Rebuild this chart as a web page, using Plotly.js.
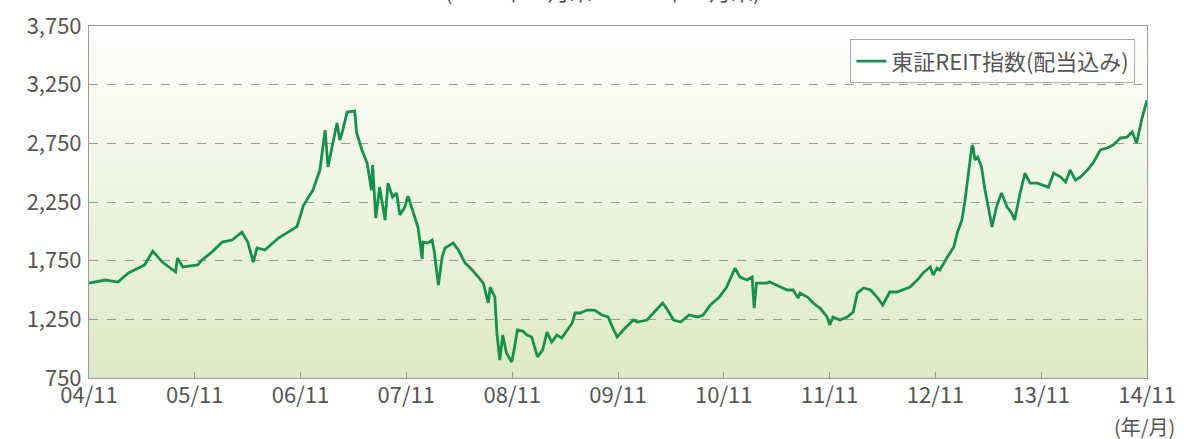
<!DOCTYPE html>
<html>
<head>
<meta charset="utf-8">
<script src="https://cdn.plot.ly/plotly-3.0.1.min.js"></script>
<style>html,body{margin:0;padding:0;background:#fff;}#chart{width:1189px;height:439px;}</style>
</head>
<body>
<div id="chart"></div>
<script>
var dates = [
"2004-11-30","2005-01-25","2005-03-10","2005-04-15","2005-06-10","2005-07-08","2005-08-10","2005-09-25","2005-10-01","2005-10-20",
"2005-12-10","2005-12-25","2006-01-28","2006-03-05","2006-04-08","2006-05-12","2006-06-01","2006-06-20","2006-07-03","2006-07-30",
"2006-09-15","2006-10-18","2006-11-10","2006-11-18","2006-12-10","2007-01-12","2007-02-05","2007-02-23","2007-03-05","2007-04-05",
"2007-04-15","2007-04-25","2007-05-10","2007-06-05","2007-06-12","2007-06-30","2007-07-18","2007-08-02","2007-08-06","2007-08-17",
"2007-08-30","2007-09-18","2007-09-28","2007-10-14","2007-10-28","2007-11-08","2007-11-25","2007-12-06","2007-12-22","2008-01-10",
"2008-01-24","2008-01-27","2008-02-12","2008-02-27","2008-03-05","2008-03-20","2008-04-02","2008-04-12","2008-05-10","2008-05-28",
"2008-06-20","2008-07-15","2008-08-05","2008-08-22","2008-09-08","2008-09-15","2008-10-01","2008-10-08","2008-10-18","2008-10-28",
"2008-11-10","2008-11-28","2008-12-08","2008-12-18","2009-01-05","2009-01-20","2009-02-05","2009-02-25","2009-03-15","2009-03-30",
"2009-04-15","2009-05-03","2009-05-20","2009-06-08","2009-06-25","2009-07-05","2009-07-22","2009-08-15","2009-09-10","2009-10-05",
"2009-10-27","2009-11-12","2009-11-27","2009-12-18","2010-01-22","2010-02-05","2010-03-10","2010-04-01","2010-05-03","2010-05-20",
"2010-06-10","2010-07-05","2010-08-02","2010-09-02","2010-09-20","2010-10-15","2010-11-15","2010-12-10","2011-01-01","2011-01-08",
"2011-01-25","2011-02-18","2011-03-08","2011-03-15","2011-03-23","2011-04-28","2011-05-08","2011-06-12","2011-07-07","2011-07-27",
"2011-08-14","2011-08-20","2011-09-15","2011-10-05","2011-10-28","2011-11-22","2011-12-01","2011-12-12","2012-01-05","2012-01-30",
"2012-02-20","2012-03-05","2012-03-27","2012-04-20","2012-05-12","2012-06-01","2012-06-25","2012-07-20","2012-08-10","2012-09-03",
"2012-09-28","2012-10-18","2012-11-12","2012-11-22","2012-12-05","2012-12-15","2013-01-10","2013-02-01","2013-02-14","2013-03-01",
"2013-03-12","2013-03-22","2013-03-30","2013-04-05","2013-04-09","2013-04-15","2013-04-25","2013-05-08","2013-05-18","2013-05-28",
"2013-06-10","2013-06-13","2013-06-28","2013-07-16","2013-08-04","2013-08-20","2013-08-30","2013-09-18","2013-10-05","2013-10-22",
"2013-11-16","2013-12-07","2013-12-25","2014-01-12","2014-02-05","2014-02-22","2014-03-10","2014-03-28","2014-04-15","2014-05-08",
"2014-05-28","2014-06-22","2014-07-15","2014-08-05","2014-08-30","2014-09-22","2014-10-10","2014-10-25","2014-11-13","2014-11-30"
];
var reitIndex = [
1559,1585,1568,1645,1713,1832,1738,1653,1772,1696,
1713,1755,1823,1909,1926,1994,1909,1738,1858,1841,
1943,1994,2028,2040,2220,2352,2522,2863,2548,2923,
2778,2863,3016,3025,2838,2693,2582,2352,2565,2113,
2377,2096,2411,2292,2326,2140,2207,2300,2180,2030,
1765,1909,1900,1926,1841,1542,1781,1858,1900,1841,
1730,1670,1610,1559,1389,1525,1440,1133,903,1116,
963,886,1014,1159,1150,1116,1100,930,990,1142,
1057,1116,1091,1159,1219,1304,1304,1329,1329,1287,
1270,1176,1099,1159,1244,1227,1244,1304,1389,1329,
1244,1227,1287,1270,1287,1372,1440,1525,1645,1687,
1610,1585,1610,1346,1559,1559,1568,1525,1500,1500,
1432,1474,1440,1389,1346,1270,1202,1270,1244,1270,
1312,1474,1517,1500,1440,1372,1483,1483,1500,1525,
1585,1645,1696,1627,1687,1670,1781,1866,1994,2096,
2266,2463,2607,2735,2718,2607,2633,2548,2377,2241,
2096,2037,2207,2326,2207,2156,2096,2326,2497,2411,
2411,2394,2377,2497,2463,2420,2522,2437,2463,2522,
2582,2693,2710,2735,2795,2803,2846,2752,2965,3118
];
var tickDates = ["2004-11-30","2005-11-30","2006-11-30","2007-11-30","2008-11-30","2009-11-30","2010-11-30","2011-11-30","2012-11-30","2013-11-30","2014-11-30"];
var tickLabels = ["04/11","05/11","06/11","07/11","08/11","09/11","10/11","11/11","12/11","13/11","14/11"];
var yTicks = [750,1250,1750,2250,2750,3250,3750];
var seriesName = "東証REIT指数(配当込み)";
var subtitle = "(2004年11月末～2014年11月末)";
var unitLabel = "(年/月)";

var FONT = "'Noto Sans CJK JP', 'Noto Sans', sans-serif";
var svg = '<svg xmlns="http://www.w3.org/2000/svg" width="100" height="100" preserveAspectRatio="none" viewBox="0 0 100 100">' +
  '<defs><linearGradient id="g" x1="0" y1="0" x2="0" y2="1">' +
  '<stop offset="0" stop-color="#ffffff"/><stop offset="0.5" stop-color="#edf4df"/><stop offset="1" stop-color="#dde9c6"/>' +
  '</linearGradient></defs><rect x="0" y="0" width="100" height="100" fill="url(#g)"/></svg>';
var bgUri = 'data:image/svg+xml;charset=utf-8,' + encodeURIComponent(svg);

var trace = {
  x: dates, y: reitIndex, type: 'scatter', mode: 'lines', name: seriesName,
  line: {color: '#17904a', width: 2.8}
};

var layout = {
  width: 1189, height: 439,
  margin: {l: 89, r: 42, t: 26, b: 61},
  paper_bgcolor: '#ffffff', plot_bgcolor: 'rgba(0,0,0,0)',
  font: {family: FONT, size: 22, color: '#555555'},
  showlegend: true,
  legend: {
    x: 0.989, xanchor: 'right', y: 0.962, yanchor: 'top',
    bgcolor: 'rgba(255,255,255,0.9)', bordercolor: '#aaaaaa', borderwidth: 1,
    font: {family: FONT, size: 22, color: '#555555'}, itemwidth: 30
  },
  xaxis: {
    type: 'date', range: ['2004-11-30', '2014-11-30'],
    tickvals: tickDates, ticktext: tickLabels,
    ticks: 'inside', ticklen: 6, tickcolor: '#999999', tickwidth: 1,
    showgrid: false, showline: true, linecolor: '#999999', linewidth: 1, mirror: true,
    tickfont: {family: FONT, size: 22, color: '#555555'}, zeroline: false,
    ticklabelstandoff: -2
  },
  yaxis: {
    range: [750, 3750], tickvals: yTicks, tickformat: ',d',
    showgrid: true, gridcolor: '#9a9a9a', griddash: 'dash', gridwidth: 1,
    showline: true, linecolor: '#999999', linewidth: 1, mirror: true,
    ticks: '', tickfont: {family: FONT, size: 22, color: '#555555'}, zeroline: false,
    ticklabelstandoff: 2
  },
  images: [{source: bgUri, xref: 'paper', yref: 'paper', x: 0, y: 1, sizex: 1, sizey: 1,
            sizing: 'stretch', xanchor: 'left', yanchor: 'top', layer: 'below'}],
  annotations: [
    {text: unitLabel, xref: 'paper', yref: 'paper', x: 1.028, y: -0.092, xanchor: 'right', yanchor: 'top',
     showarrow: false, font: {family: FONT, size: 20, color: '#555555'}},
    {text: subtitle, xref: 'paper', yref: 'paper', x: 0.485, y: 1.05, xanchor: 'center', yanchor: 'bottom',
     showarrow: false, font: {family: FONT, size: 22, color: '#555555'}}
  ]
};

Plotly.newPlot('chart', [trace], layout, {displayModeBar: false, staticPlot: true});
</script>
</body>
</html>
